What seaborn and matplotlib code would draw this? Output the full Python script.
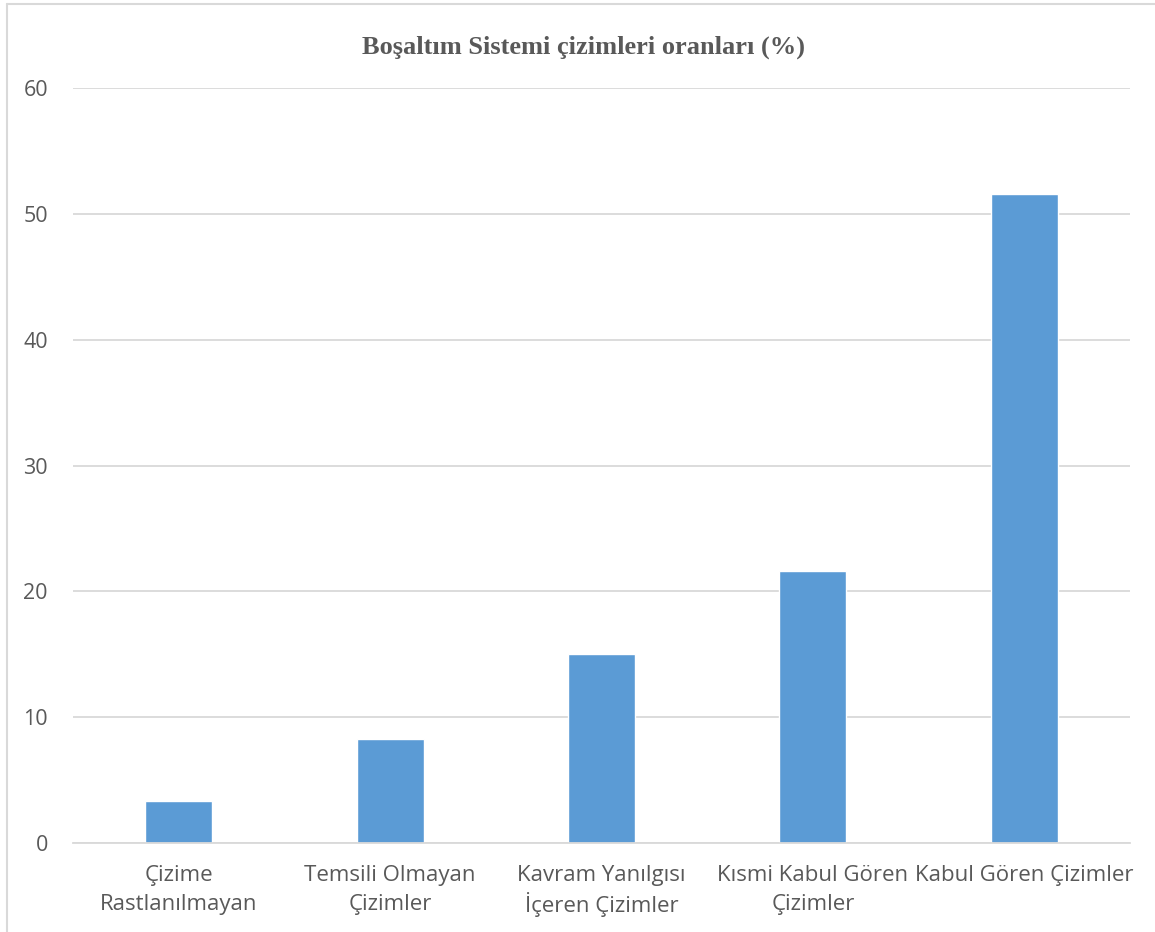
import matplotlib
matplotlib.use("Agg")
import matplotlib.pyplot as plt
from matplotlib.lines import Line2D
import seaborn as sns
import pandas as pd

categories = ["Çizime\nRastlanılmayan", "Temsili Olmayan\nÇizimler", "Kavram Yanılgısı\nİçeren Çizimler",
              "Kısmi Kabul Gören\nÇizimler", "Kabul Gören Çizimler"]
values = [3.3, 8.3, 15.0, 21.6, 51.6]
yticks = [0, 10, 20, 30, 40, 50, 60]
title = "Boşaltım Sistemi çizimleri oranları (%)"

sns.set_theme(style="white")
plt.rcParams['font.family'] = ['Open Sans', 'DejaVu Sans']

W, H = 1155, 932
fig = plt.figure(figsize=(W / 100, H / 100), dpi=100)
ax = fig.add_axes([73 / W, 1 - 843 / H, (1130 - 73) / W, (843 - 88) / H])

df = pd.DataFrame({"cat": categories, "val": values})
sns.barplot(data=df, x="cat", y="val", ax=ax, color="#5B9BD5", saturation=1, width=0.317)

ax.set_xlim(-0.5, 4.5)
ax.set_ylim(0, 60)
ax.set_yticks(yticks)
ax.set_yticklabels([str(t) for t in yticks])
ax.yaxis.grid(True, color="#D9D9D9", linewidth=1.3)
ax.set_axisbelow(True)
for s in ["top", "right", "left"]:
    ax.spines[s].set_visible(False)
ax.spines["bottom"].set_color("#D9D9D9")
ax.spines["bottom"].set_linewidth(1.3)
ax.set_xlabel("")
ax.set_ylabel("")
ax.tick_params(axis="both", length=0, colors="#595959")
ax.tick_params(axis="x", labelsize=16, pad=16)
ax.tick_params(axis="y", labelsize=15.5, pad=18)
for lbl in ax.get_xticklabels():
    # accented capital (İ) makes its line taller; compensate so all lines align
    lbl.set_linespacing(1.28 if "İ" in lbl.get_text() else 1.48)

fig.text(0.5 * (361 + 806) / W, 1 - 47 / H, title, ha="center", va="center",
         fontsize=19, fontweight="bold", color="#595959", family=["Liberation Serif"])

# chart frame (left and top edges visible)
fig.add_artist(Line2D([7 / W, 7 / W], [0, 1 - 4 / H], transform=fig.transFigure, color="#D9D9D9", lw=1.5))
fig.add_artist(Line2D([7 / W, 1], [1 - 4 / H, 1 - 4 / H], transform=fig.transFigure, color="#D9D9D9", lw=1.5))

fig.savefig("out.png", dpi=100, facecolor="white")
